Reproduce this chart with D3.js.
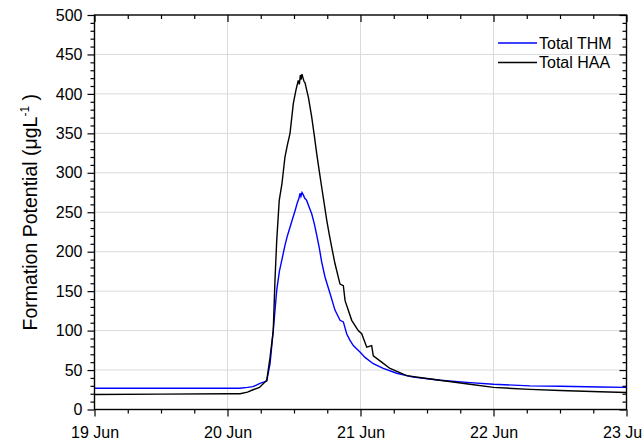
<!DOCTYPE html>
<html>
<head>
<meta charset="utf-8">
<script src="https://cdn.jsdelivr.net/npm/d3@7"></script>
<style>
  html, body { margin: 0; padding: 0; background: #fff; }
  svg { display: block; font-family: Arial, "Liberation Sans", sans-serif; }
</style>
</head>
<body>
<svg id="chart" width="643" height="447"></svg>
<script>
// Time offsets in days after 19 Jun 00:00
const thmDays = [0, 0.5, 1.0, 1.094, 1.15, 1.192, 1.244, 1.295, 1.32, 1.344, 1.37, 1.39, 1.408, 1.432,
  1.45, 1.47, 1.49, 1.508, 1.525, 1.538, 1.545, 1.552, 1.56, 1.57, 1.58, 1.595, 1.615, 1.633, 1.652, 1.671,
  1.69, 1.708, 1.733, 1.771, 1.808, 1.846, 1.871, 1.896, 1.92, 1.946, 1.996, 2.034, 2.096, 2.171, 2.272,
  2.397, 2.598, 2.823, 3.0, 3.274, 3.5, 3.8, 4.0];
const thmValues = [27, 27, 27, 27, 28, 29, 33, 36, 58, 100, 151, 175, 189, 208,
  220, 231, 242, 252, 262, 268, 274, 270, 275, 272, 268, 265, 256, 248, 236, 221,
  205, 187, 168, 147, 126, 113, 111, 96, 88, 81, 73, 66, 58, 52, 46,
  41, 37, 34, 32, 30, 29.5, 28.5, 28];

const haaDays = [0, 0.5, 1.0, 1.094, 1.15, 1.192, 1.24, 1.282, 1.295, 1.32, 1.344, 1.357, 1.37, 1.389,
  1.41, 1.432, 1.45, 1.47, 1.495, 1.515, 1.532, 1.54, 1.548, 1.553, 1.56, 1.568, 1.575, 1.583, 1.595, 1.608,
  1.633, 1.652, 1.671, 1.69, 1.708, 1.728, 1.746, 1.765, 1.783, 1.808, 1.846, 1.871, 1.884, 1.934, 1.983,
  2.009, 2.047, 2.084, 2.096, 2.159, 2.222, 2.347, 2.472, 2.598, 2.823, 3.0, 3.274, 3.5, 3.8, 4.0];
const haaValues = [19, 19.5, 20, 20, 22, 25, 28, 35, 37, 66, 100, 164, 214, 265,
  287, 320, 335, 350, 388, 405, 417, 412, 424, 418, 425, 420, 416, 414, 405, 396,
  371, 348, 324, 302, 282, 260, 240, 222, 206, 185, 159, 157, 138, 113, 100,
  96, 79, 81, 68, 60, 52, 43, 40, 37, 32, 28, 25.5, 24, 22.5, 21.5];

const seriesNames = ["Total THM", "Total HAA"];
const seriesColors = ["#0000ff", "#000000"];
const yTicks = [0, 50, 100, 150, 200, 250, 300, 350, 400, 450, 500];

const start = new Date(2012, 5, 19);
const toDate = d => new Date(start.getTime() + d * 864e5);

const margin = { left: 94.5, right: 16.5, top: 15, bottom: 37.5 };
const W = 643, H = 447;
const svg = d3.select("#chart");

const x = d3.scaleTime()
  .domain([start, toDate(4)])
  .range([margin.left, W - margin.right]);
const y = d3.scaleLinear()
  .domain([0, 500])
  .range([H - margin.bottom, margin.top]);

const x0 = margin.left, x1 = W - margin.right, y0 = H - margin.bottom, y1 = margin.top;

// grid
const grid = svg.append("g").attr("stroke", "#dadada").attr("stroke-width", 1);
yTicks.filter(v => v > 0 && v < 500).forEach(v => {
  grid.append("line").attr("x1", x0).attr("x2", x1).attr("y1", y(v)).attr("y2", y(v));
});
[1, 2, 3].forEach(d => {
  grid.append("line").attr("x1", x(toDate(d))).attr("x2", x(toDate(d))).attr("y1", y1).attr("y2", y0);
});

// data lines
const line = d3.line().x(d => x(toDate(d[0]))).y(d => y(d[1]));
const thm = thmDays.map((d, i) => [d, thmValues[i]]);
const haa = haaDays.map((d, i) => [d, haaValues[i]]);
svg.append("path").datum(thm).attr("fill", "none").attr("stroke", seriesColors[0])
  .attr("stroke-width", 1.4).attr("d", line);
svg.append("path").datum(haa).attr("fill", "none").attr("stroke", seriesColors[1])
  .attr("stroke-width", 1.4).attr("d", line);

// axes
const majorX = d3.range(0, 5).map(toDate);
const minorX = d3.range(0, 16).map(i => toDate(i * 0.25)).filter((d, i) => i % 4 !== 0);
const minorY = d3.range(0, 510, 10).filter(v => v % 50 !== 0);

const fmt = d3.timeFormat("%d %b");
svg.append("g").attr("transform", `translate(0,${y0})`)
  .call(d3.axisBottom(x).tickValues(majorX).tickFormat(fmt).tickSize(7).tickPadding(10));
svg.append("g").attr("transform", `translate(0,${y0})`)
  .call(d3.axisBottom(x).tickValues(minorX).tickFormat("").tickSize(4));
svg.append("g").attr("transform", `translate(0,${y1})`)
  .call(d3.axisBottom(x).tickValues(majorX).tickFormat("").tickSize(7));
svg.append("g").attr("transform", `translate(0,${y1})`)
  .call(d3.axisBottom(x).tickValues(minorX).tickFormat("").tickSize(4));
svg.append("g").attr("transform", `translate(${x0},0)`)
  .call(d3.axisLeft(y).tickValues(yTicks).tickSize(7).tickPadding(5));
svg.append("g").attr("transform", `translate(${x0},0)`)
  .call(d3.axisLeft(y).tickValues(minorY).tickFormat("").tickSize(4));
svg.append("g").attr("transform", `translate(${x1},0)`)
  .call(d3.axisLeft(y).tickValues(yTicks).tickFormat("").tickSize(7));
svg.append("g").attr("transform", `translate(${x1},0)`)
  .call(d3.axisLeft(y).tickValues(minorY).tickFormat("").tickSize(4));

svg.selectAll(".domain").remove();
svg.selectAll(".tick line").attr("stroke", "#000").attr("stroke-width", 1.2);
svg.selectAll(".tick text").attr("fill", "#000").attr("font-size", 16)
  .attr("font-family", "Arial, 'Liberation Sans', sans-serif");

// frame
svg.append("rect").attr("x", x0).attr("y", y1).attr("width", x1 - x0).attr("height", y0 - y1)
  .attr("fill", "none").attr("stroke", "#000").attr("stroke-width", 1.4);

// y axis title
const yt = svg.append("text")
  .attr("transform", `translate(37,${(y0 + y1) / 2}) rotate(-90)`)
  .attr("text-anchor", "middle").attr("font-size", 19.5).attr("fill", "#000");
yt.append("tspan").text("Formation Potential (\u03bcgL");
yt.append("tspan").attr("font-size", 12).attr("dy", -8).text("-1");
yt.append("tspan").attr("dy", 8).text(" )");

// legend
const legend = svg.append("g");
seriesNames.forEach((name, i) => {
  const ly = 43 + i * 19.5;
  legend.append("line").attr("x1", 498).attr("x2", 537).attr("y1", ly).attr("y2", ly)
    .attr("stroke", seriesColors[i]).attr("stroke-width", 1.4);
  legend.append("text").attr("x", 539).attr("y", ly).attr("dy", "0.35em")
    .attr("font-size", 16).attr("fill", "#000").text(name);
});
</script>
</body>
</html>
